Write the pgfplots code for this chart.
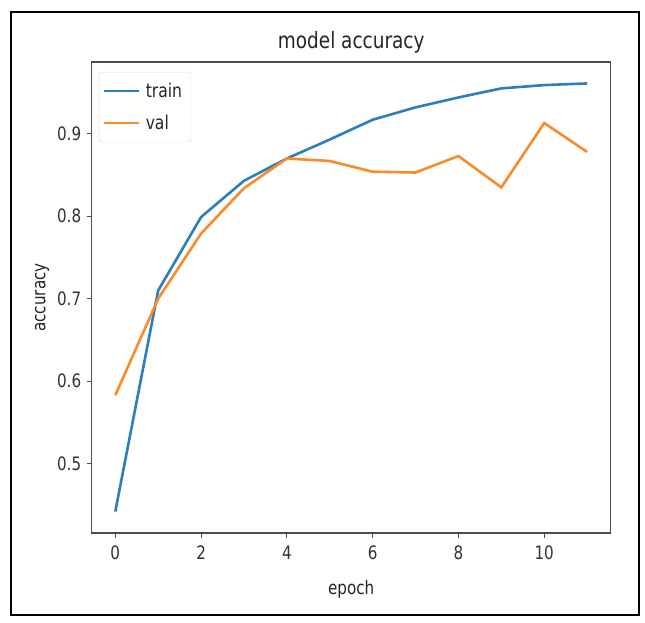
\documentclass[border=0pt]{standalone}
\usepackage{fontspec}
\setmainfont{DejaVu Sans}[FakeStretch=0.82]
\usepackage{pgfplots}
\pgfplotsset{compat=1.18}
\definecolor{tabblue}{HTML}{2B7FBA}
\definecolor{taborange}{HTML}{FA8A2A}
\begin{document}
\begin{tikzpicture}[x=1pt,y=1pt]
\path[use as bounding box,fill=white] (0,0) rectangle (645,622);
\draw[line width=2.5pt,black] (11,7) rectangle (639,610);
\begin{axis}[
  at={(91.7pt,89pt)}, anchor=south west,
  scale only axis, width=519pt, height=471pt,
  xmin=-0.55, xmax=11.55, ymin=0.416, ymax=0.987,
  xtick={0,2,4,6,8,10}, ytick={0.5,0.6,0.7,0.8,0.9},
  /pgf/number format/assume math mode=true,
  /pgf/number format/fixed,
  axis line style={black!70, line width=1.3pt},
  tick style={black!70, line width=1.1pt},
  major tick length=5pt,
  tick align=outside, xtick pos=bottom, ytick pos=left,
  ticklabel style={font=\fontsize{18.5}{21}\selectfont, text=black!80},
  xticklabel style={yshift=-4pt},
  yticklabel style={xshift=-2pt},
  title={model accuracy},
  title style={font=\fontsize{22.5}{25}\selectfont, text=black!85, yshift=-1pt},
  xlabel={epoch}, ylabel={accuracy},
  label style={font=\fontsize{18.5}{21}\selectfont, text=black!85},
  xlabel style={yshift=-14pt},
  ylabel style={yshift=1pt},
  legend cell align=left,
  legend style={at={(0.014,0.979)}, anchor=north west, draw=black!15, rounded corners=3pt,
    font=\fontsize{19}{22}\selectfont, text=black!85, inner xsep=4pt, inner ysep=9pt,
    row sep=12pt, nodes={inner xsep=5pt}},
  legend image code/.code={\draw[#1] (0pt,0pt) -- (35pt,0pt);},
]
\addplot[tabblue, line width=2.6pt] coordinates {
(0,0.442) (1,0.710) (2,0.799) (3,0.843) (4,0.870) (5,0.893) (6,0.917) (7,0.932) (8,0.944) (9,0.955) (10,0.959) (11,0.961)};
\addlegendentry{train}
\addplot[taborange, line width=2.6pt] coordinates {
(0,0.583) (1,0.700) (2,0.779) (3,0.834) (4,0.870) (5,0.867) (6,0.854) (7,0.853) (8,0.873) (9,0.835) (10,0.913) (11,0.878)};
\addlegendentry{val}
\end{axis}
\end{tikzpicture}
\end{document}
